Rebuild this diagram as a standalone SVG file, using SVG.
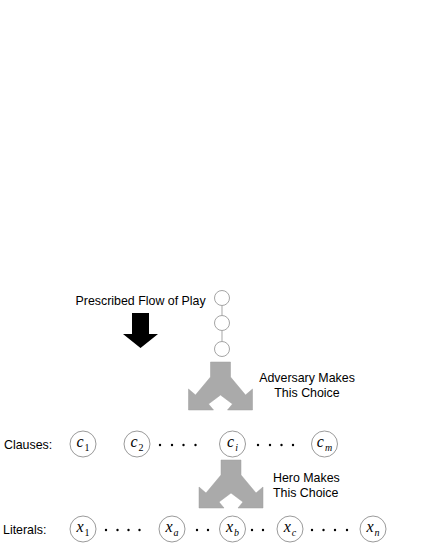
<svg xmlns="http://www.w3.org/2000/svg" width="425" height="550" viewBox="0 0 425 550">
<style>
.lbl{font-family:"Liberation Sans",Arial,sans-serif;font-size:12.4px;fill:#000}
.nd{fill:#fff;stroke:#8f8f8f;stroke-width:0.9}
.var{font-family:"Liberation Serif","Times New Roman",serif;font-size:16px;font-style:italic;fill:#000;text-anchor:middle}
.sub{font-size:10px}
.up{font-style:normal}
.ch{fill:#fff;stroke:#9a9a9a;stroke-width:0.9}
.cl{stroke:#b5b5b5;stroke-width:1.2}
.split{fill:#aaaaaa;stroke:#9f9f9f;stroke-width:0.5}
.dot{fill:#000}
</style>
<rect width="425" height="550" fill="#fff"/>

<g id="flow-label"><text class="lbl" x="75.5" y="305">Prescribed Flow of Play</text></g>
<g id="flow-arrow"><polygon points="132,313 149,313 149,334 158,334 140.5,348 123,334 132,334" fill="#000"/></g>

<g id="connectors">
<line class="cl" x1="222" y1="305.5" x2="222" y2="315.5"/>
<line class="cl" x1="222" y1="330.5" x2="222" y2="341.5"/>
</g>
<g id="chain1"><circle class="ch" cx="222" cy="298" r="7.5"/></g>
<g id="chain2"><circle class="ch" cx="222" cy="323" r="7.5"/></g>
<g id="chain3"><circle class="ch" cx="222" cy="349" r="7.5"/></g>

<g id="adversary-choice">
<polygon class="split" points="210.5,362 230.5,362 230.5,377 245.5,395 252.5,389 252.5,410 227.5,410 232.5,404 220.5,395 208.5,404 213.5,410 188.5,410 188.5,389 195.5,395 210.5,377"/>
<text class="lbl" x="307" y="382" text-anchor="middle">Adversary Makes</text>
<text class="lbl" x="307" y="397" text-anchor="middle">This Choice</text>
</g>

<g id="hero-choice">
<polygon class="split" points="221,460 241,460 241,475 256,493 263,487 263,508 238,508 243,502 231,493 219,502 224,508 199,508 199,487 206,493 221,475"/>
<text class="lbl" x="273" y="482">Hero Makes</text>
<text class="lbl" x="273" y="497">This Choice</text>
</g>

<g id="clauses-label"><text class="lbl" x="4" y="448.5" font-size="12.8">Clauses:</text></g>
<g id="c1"><circle class="nd" cx="83" cy="444" r="13"/><text class="var" x="83" y="447">c<tspan class="sub up" dx="1" dy="3.5">1</tspan></text></g>
<g id="c2"><circle class="nd" cx="137" cy="444" r="13"/><text class="var" x="137" y="447">c<tspan class="sub up" dx="1" dy="3.5">2</tspan></text></g>
<g id="clause-dots1"><circle class="dot" cx="160" cy="445" r="1.2"/><circle class="dot" cx="172" cy="445" r="1.2"/><circle class="dot" cx="183.5" cy="445" r="1.2"/><circle class="dot" cx="195.5" cy="445" r="1.2"/></g>
<g id="ci"><circle class="nd" cx="232.5" cy="444" r="13"/><text class="var" x="232.5" y="447">c<tspan class="sub" dx="1" dy="3.5">i</tspan></text></g>
<g id="clause-dots2"><circle class="dot" cx="258" cy="445" r="1.2"/><circle class="dot" cx="270" cy="445" r="1.2"/><circle class="dot" cx="281.5" cy="445" r="1.2"/><circle class="dot" cx="293" cy="445" r="1.2"/></g>
<g id="cm"><circle class="nd" cx="324.5" cy="444" r="13"/><text class="var" x="324.5" y="447">c<tspan class="sub" dx="1" dy="3.5">m</tspan></text></g>

<g id="literals-label"><text class="lbl" x="3" y="533.5" font-size="13.5">Literals:</text></g>
<g id="x1"><circle class="nd" cx="83" cy="529" r="13"/><text class="var" x="83" y="532">x<tspan class="sub up" dx="1" dy="3.5">1</tspan></text></g>
<g id="lit-dots1"><circle class="dot" cx="106" cy="530" r="1.2"/><circle class="dot" cx="117.5" cy="530" r="1.2"/><circle class="dot" cx="128.5" cy="530" r="1.2"/><circle class="dot" cx="139.5" cy="530" r="1.2"/></g>
<g id="xa"><circle class="nd" cx="172" cy="529" r="13"/><text class="var" x="172" y="532">x<tspan class="sub" dx="1" dy="3.5">a</tspan></text></g>
<g id="lit-dots2"><circle class="dot" cx="197" cy="530" r="1.2"/><circle class="dot" cx="208" cy="530" r="1.2"/></g>
<g id="xb"><circle class="nd" cx="232.5" cy="529" r="13"/><text class="var" x="232.5" y="532">x<tspan class="sub" dx="1" dy="3.5">b</tspan></text></g>
<g id="lit-dots3"><circle class="dot" cx="252" cy="530" r="1.2"/><circle class="dot" cx="263" cy="530" r="1.2"/></g>
<g id="xc"><circle class="nd" cx="290" cy="529" r="13"/><text class="var" x="290" y="532">x<tspan class="sub" dx="1" dy="3.5">c</tspan></text></g>
<g id="lit-dots4"><circle class="dot" cx="312" cy="530" r="1.2"/><circle class="dot" cx="323.5" cy="530" r="1.2"/><circle class="dot" cx="335" cy="530" r="1.2"/><circle class="dot" cx="347" cy="530" r="1.2"/></g>
<g id="xn"><circle class="nd" cx="373" cy="529" r="13"/><text class="var" x="373" y="532">x<tspan class="sub" dx="1" dy="3.5">n</tspan></text></g>
</svg>
